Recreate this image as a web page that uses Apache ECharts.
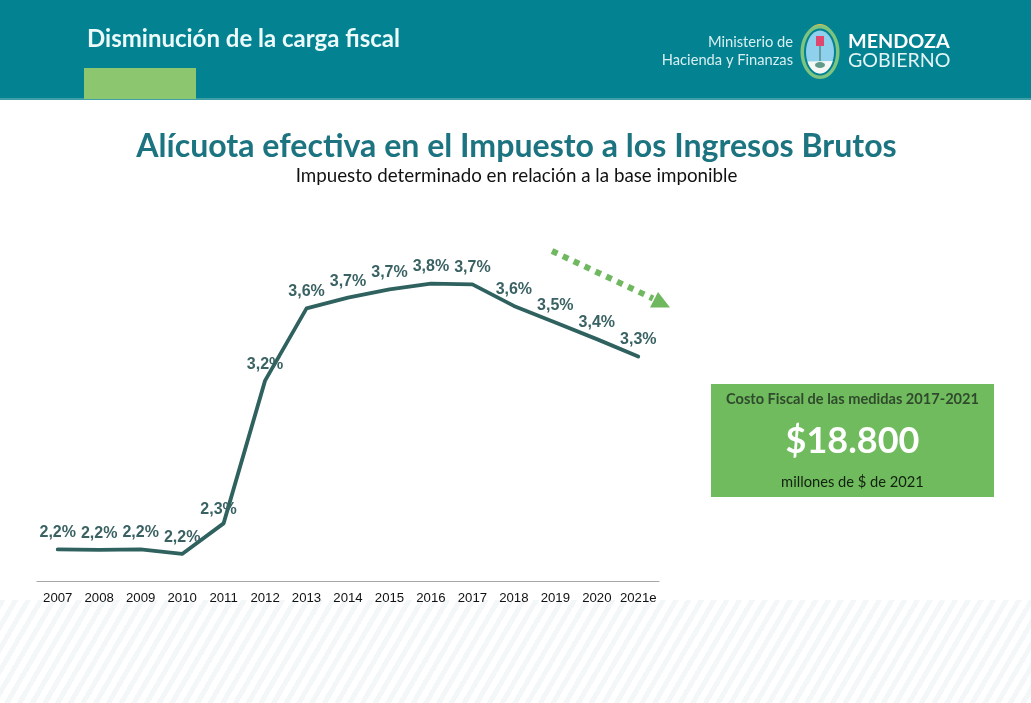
<!DOCTYPE html>
<html>
<head>
<meta charset="utf-8">
<style>
html,body{margin:0;padding:0;background:#fff;}
#hatch{position:absolute;left:0;top:600px;width:1031px;height:103px;
background:repeating-linear-gradient(120deg,#f4f7f8 0,#f4f7f8 5px,#ffffff 5px,#ffffff 11px);}
#c{position:absolute;left:0;top:0;width:1031px;height:703px;}
</style>
<script src="https://cdn.jsdelivr.net/npm/echarts@6/dist/echarts.min.js"></script>
</head>
<body>
<div id="hatch"></div>
<div id="c"></div>
<script>
const years = ['2007','2008','2009','2010','2011','2012','2013','2014','2015','2016','2017','2018','2019','2020','2021e'];
const rates = [2.19,2.187,2.19,2.163,2.347,3.207,3.642,3.707,3.757,3.792,3.787,3.657,3.557,3.457,3.352];
const rateLabels = ['2,2%','2,2%','2,2%','2,2%','2,3%','3,2%','3,6%','3,7%','3,7%','3,8%','3,7%','3,6%','3,5%','3,4%','3,3%'];

const chart = echarts.init(document.getElementById('c'), null, {renderer:'canvas', width:1031, height:703});

const txt = (x,y,text,font,fill,align,extra) => ({type:'text',x,y,style:Object.assign({text,font,fill,align:align||'left',verticalAlign:'middle'},extra||{})});
// lower white part of the shield: a chord and the ellipse arc below it
const shieldBase = [];
for (let a=0.43; a<=Math.PI-0.43+0.001; a+=0.15) shieldBase.push([820+14*Math.cos(a),52+21.5*Math.sin(a)]);
const graphics = [
  {type:'rect',z:-1,shape:{x:0,y:0,width:1031,height:98},style:{fill:'#038392'}},
  {type:'rect',z:-1,shape:{x:0,y:98,width:1031,height:2},style:{fill:'#3f9ea6'}},
  {type:'rect',z:-1,shape:{x:84,y:68,width:112,height:31},style:{fill:'#8cc76f'}},
  txt(87,39,'Disminución de la carga fiscal','bold 24px Lato','#ecfafa'),
  txt(793,42,'Ministerio de','14.7px Lato','#d8eef0','right'),
  txt(793,60,'Hacienda y Finanzas','14.7px Lato','#d8eef0','right'),
  txt(848,42,'MENDOZA','bold 19.8px Lato','#ffffff'),
  txt(848,61,'GOBIERNO','19.6px Lato','#e4f4f5'),
  // provincial shield
  {type:'sector',shape:{cx:820,cy:36,r0:0,r:12,startAngle:Math.PI,endAngle:2*Math.PI},style:{fill:'#e8c04a'}},
  {type:'ellipse',shape:{cx:820,cy:52,rx:19.5,ry:27},style:{fill:'#7cc47f'}},
  {type:'ellipse',shape:{cx:820,cy:52,rx:16,ry:23.5},style:{fill:'#038392'}},
  {type:'ellipse',shape:{cx:820,cy:52,rx:14,ry:21.5},style:{fill:'#8fd0ec'}},
  {type:'polygon',shape:{points:shieldBase},style:{fill:'#f4f7f4'}},
  {type:'rect',shape:{x:819.5,y:46,width:1,height:15},style:{fill:'#3a6a58'}},
  {type:'rect',shape:{x:816,y:36,width:8,height:10},style:{fill:'#e0476f'}},
  {type:'ellipse',shape:{cx:820,cy:65,rx:5,ry:3},style:{fill:'#5f9a8a'}},
  // titles
  txt(516.5,147,'Alícuota efectiva en el Impuesto a los Ingresos Brutos','bold 32.1px Lato','#1c7480','center'),
  txt(516.5,176,'Impuesto determinado en relación a la base imponible','18.75px Lato','#111111','center'),
  // trend arrow
  {type:'line',shape:{x1:552,y1:251,x2:653,y2:298.5},style:{stroke:'#6fb85f',lineWidth:6,lineDash:[6,6]}},
  {type:'polygon',shape:{points:[[650,307.5],[670,307.5],[658,292]]},style:{fill:'#6fb85f'}},
  // cost box
  {type:'rect',shape:{x:711,y:384,width:283,height:113},style:{fill:'#70bb5d'}},
  txt(852.5,399,'Costo Fiscal de las medidas 2017-2021','bold 14.6px Lato','#2f4a2c','center'),
  txt(852.5,441,'$18.800','bold 36px Lato','#ffffff','center'),
  txt(852.5,482,'millones de $ de 2021','14.7px Lato','#12210f','center')
];

chart.setOption({
  animation:false,
  backgroundColor:'transparent',
  grid:{left:37,top:249,width:622,height:332,containLabel:false},
  xAxis:{type:'category',data:years,boundaryGap:true,
    axisLine:{show:true,lineStyle:{color:'#a6a6a6',width:1}},
    axisTick:{show:false},
    axisLabel:{interval:0,margin:11,fontFamily:'Liberation Sans',fontSize:13.2,color:'#111111'}},
  yAxis:{type:'value',min:2,max:4,show:false,splitLine:{show:false}},
  series:[{type:'line',data:rates.map((v,i)=>i===4?{value:v,label:{offset:[-5,3]}}:{value:v}),
    symbol:'circle',symbolSize:1,showSymbol:true,showAllSymbol:true,smooth:false,
    itemStyle:{color:'#2f625f'},
    lineStyle:{color:'#2f625f',width:3.8,cap:'round',join:'round'},
    z:2,
    label:{show:true,position:'top',distance:8,
      formatter:p=>rateLabels[p.dataIndex],
      fontFamily:'Liberation Sans',fontWeight:'bold',fontSize:16,color:'#3a6263'}}],
  graphic:graphics
});
</script>
</body>
</html>
